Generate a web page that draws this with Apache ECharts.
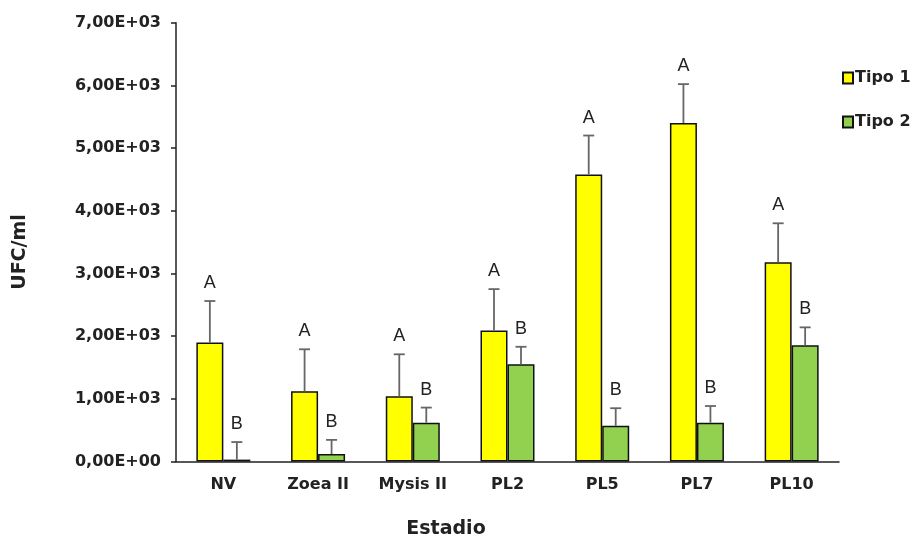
<!DOCTYPE html>
<html>
<head>
<meta charset="utf-8">
<script src="https://cdn.jsdelivr.net/npm/echarts@6/dist/echarts.min.js"></script>
<style>html,body{margin:0;padding:0;background:#fff}#c{width:916px;height:539px}</style>
</head>
<body>
<div id="c"></div>
<script>
const categories = ['NV', 'Zoea II', 'Mysis II', 'PL2', 'PL5', 'PL7', 'PL10'];
const tipo1 = [1900, 1120, 1040, 2090, 4580, 5400, 3180];
const tipo1Err = [660, 670, 670, 660, 620, 620, 620];
const tipo1Letters = ['A', 'A', 'A', 'A', 'A', 'A', 'A'];
const tipo2 = [30, 120, 620, 1550, 570, 620, 1855];
const tipo2Err = [280, 225, 240, 280, 280, 265, 285];
const tipo2Letters = ['B', 'B', 'B', 'B', 'B', 'B', 'B'];
const yTickLabels = ['0,00E+00', '1,00E+03', '2,00E+03', '3,00E+03', '4,00E+03', '5,00E+03', '6,00E+03', '7,00E+03'];

const FONT = '"DejaVu Sans", Verdana, sans-serif';
const LFONT = '"Liberation Sans", Arial, sans-serif';
const BAR_W = 27;

function errSeries(vals, errs, letters, offset) {
  return {
    type: 'custom',
    silent: true,
    z: 5,
    data: vals.map((v, i) => [i, v, v + errs[i]]),
    renderItem: function (params, api) {
      const idx = api.value(0);
      const pBase = api.coord([idx, api.value(1)]);
      const pTop = api.coord([idx, api.value(2)]);
      const x = pBase[0] + offset;
      const letter = letters[params.dataIndex];
      return {
        type: 'group',
        children: [
          { type: 'line', shape: { x1: x, y1: pBase[1], x2: x, y2: pTop[1] }, style: { stroke: '#666', lineWidth: 1.8 } },
          { type: 'line', shape: { x1: x - 5.5, y1: pTop[1], x2: x + 5.5, y2: pTop[1] }, style: { stroke: '#666', lineWidth: 1.8 } },
          { type: 'text', style: { text: letter, x: x, y: pTop[1] - 9, align: 'center', verticalAlign: 'bottom', fill: '#222', font: '18px ' + LFONT } }
        ]
      };
    }
  };
}

const chart = echarts.init(document.getElementById('c'), null, { renderer: 'canvas' });
chart.setOption({
  animation: false,
  backgroundColor: '#fff',
  grid: { left: 176, right: 77, top: 22.7, bottom: 77.5, containLabel: false },
  legend: {
    orient: 'vertical',
    left: 842,
    top: 70,
    padding: 0,
    itemWidth: 10,
    itemHeight: 11,
    itemGap: 28,
    icon: 'rect',
    data: ['Tipo 1', 'Tipo 2'],
    textStyle: { fontFamily: FONT, fontWeight: 'bold', fontSize: 16, color: '#222', padding: [0, 0, 0, -3] }
  },
  xAxis: {
    type: 'category',
    data: categories,
    axisLine: { lineStyle: { color: '#222', width: 1.5 } },
    axisTick: { show: false },
    axisLabel: { fontFamily: FONT, fontWeight: 'bold', fontSize: 16, color: '#222', margin: 15 }
  },
  yAxis: {
    type: 'value',
    min: 0,
    max: 7000,
    interval: 1000,
    splitLine: { show: false },
    axisLine: { show: true, lineStyle: { color: '#222', width: 1.5 } },
    axisTick: { show: true, length: 5, lineStyle: { color: '#222', width: 1.5 } },
    axisLabel: {
      fontFamily: FONT, fontWeight: 'bold', fontSize: 16, color: '#222', margin: 15,
      formatter: function (v) { return yTickLabels[Math.round(v / 1000)]; }
    }
  },
  graphic: [
    { type: 'text', x: 446, y: 529, style: { text: 'Estadio', fill: '#222', font: 'bold 19px ' + FONT, align: 'center', verticalAlign: 'middle' } },
    { type: 'text', x: 20, y: 252, rotation: Math.PI / 2, style: { text: 'UFC/ml', fill: '#222', font: 'bold 19px ' + FONT, align: 'center', verticalAlign: 'middle' } }
  ],
  series: [
    {
      name: 'Tipo 1', type: 'bar', data: tipo1, barWidth: BAR_W, barGap: '0%',
      itemStyle: { color: '#FFFF00', borderColor: '#111', borderWidth: 1.5 }
    },
    {
      name: 'Tipo 2', type: 'bar', data: tipo2, barWidth: BAR_W, barGap: '0%',
      itemStyle: { color: '#92D050', borderColor: '#111', borderWidth: 1.5 }
    },
    errSeries(tipo1, tipo1Err, tipo1Letters, -BAR_W / 2),
    errSeries(tipo2, tipo2Err, tipo2Letters, BAR_W / 2)
  ]
});
</script>
</body>
</html>
